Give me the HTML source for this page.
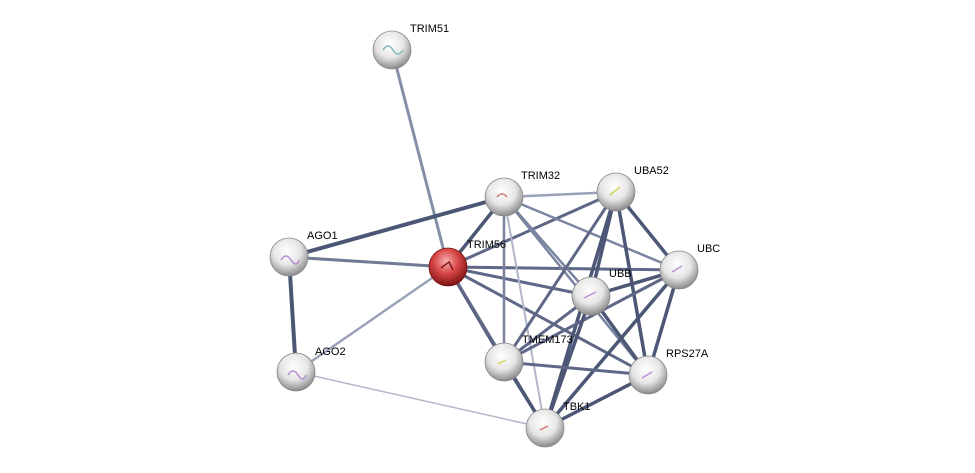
<!DOCTYPE html>
<html><head><meta charset="utf-8"><style>
html,body{margin:0;padding:0;background:#fff;width:975px;height:473px;overflow:hidden}
svg text{font-family:"Liberation Sans",sans-serif;font-size:11px;fill:#000}
</style></head><body>
<svg width="975" height="473" viewBox="0 0 975 473" xmlns="http://www.w3.org/2000/svg">
<defs>
<radialGradient id="g" cx="45%" cy="35%" r="65%">
<stop offset="0" stop-color="#ffffff"/><stop offset="0.55" stop-color="#e6e6e6"/><stop offset="1" stop-color="#8a8a8a"/>
</radialGradient>
<radialGradient id="r" cx="45%" cy="35%" r="65%">
<stop offset="0" stop-color="#f6b0b0"/><stop offset="0.5" stop-color="#d84545"/><stop offset="1" stop-color="#7a1414"/>
</radialGradient>
</defs>
<g stroke-linecap="round">
<line x1="392" y1="50" x2="448" y2="267" stroke="#8590a8" stroke-width="3"/>
<line x1="448" y1="267" x2="289" y2="257" stroke="#6f7a96" stroke-width="3"/>
<line x1="448" y1="267" x2="296" y2="372" stroke="#9aa2b8" stroke-width="2.5"/>
<line x1="448" y1="267" x2="504" y2="197" stroke="#4c5675" stroke-width="3.5"/>
<line x1="448" y1="267" x2="616" y2="192" stroke="#5e6886" stroke-width="3"/>
<line x1="448" y1="267" x2="679" y2="270" stroke="#5e6886" stroke-width="3"/>
<line x1="448" y1="267" x2="591" y2="296" stroke="#5e6886" stroke-width="3"/>
<line x1="448" y1="267" x2="648" y2="375" stroke="#5e6886" stroke-width="3"/>
<line x1="448" y1="267" x2="504" y2="362" stroke="#4c5675" stroke-width="3.5"/>
<line x1="448" y1="267" x2="545" y2="428" stroke="#5e6886" stroke-width="3"/>
<line x1="289" y1="257" x2="296" y2="372" stroke="#4c5675" stroke-width="4"/>
<line x1="289" y1="257" x2="504" y2="197" stroke="#4c5675" stroke-width="4"/>
<line x1="296" y1="372" x2="545" y2="428" stroke="#b8b4c8" stroke-width="1.5"/>
<line x1="504" y1="197" x2="616" y2="192" stroke="#9aa2b8" stroke-width="2.5"/>
<line x1="504" y1="197" x2="679" y2="270" stroke="#7a84a0" stroke-width="2.5"/>
<line x1="504" y1="197" x2="591" y2="296" stroke="#7a84a0" stroke-width="2.5"/>
<line x1="504" y1="197" x2="648" y2="375" stroke="#7a84a0" stroke-width="2.5"/>
<line x1="504" y1="197" x2="504" y2="362" stroke="#7a84a0" stroke-width="2.5"/>
<line x1="504" y1="197" x2="545" y2="428" stroke="#b0b6c8" stroke-width="2"/>
<line x1="616" y1="192" x2="679" y2="270" stroke="#4c5675" stroke-width="3.5"/>
<line x1="616" y1="192" x2="591" y2="296" stroke="#4c5675" stroke-width="3.5"/>
<line x1="616" y1="192" x2="648" y2="375" stroke="#4c5675" stroke-width="3.5"/>
<line x1="616" y1="192" x2="504" y2="362" stroke="#5e6886" stroke-width="3"/>
<line x1="616" y1="192" x2="545" y2="428" stroke="#4c5675" stroke-width="3.5"/>
<line x1="679" y1="270" x2="591" y2="296" stroke="#4c5675" stroke-width="3.5"/>
<line x1="679" y1="270" x2="648" y2="375" stroke="#4c5675" stroke-width="3.5"/>
<line x1="679" y1="270" x2="504" y2="362" stroke="#5e6886" stroke-width="3"/>
<line x1="679" y1="270" x2="545" y2="428" stroke="#4c5675" stroke-width="3.5"/>
<line x1="591" y1="296" x2="648" y2="375" stroke="#4c5675" stroke-width="3.5"/>
<line x1="591" y1="296" x2="504" y2="362" stroke="#5e6886" stroke-width="3"/>
<line x1="591" y1="296" x2="545" y2="428" stroke="#4c5675" stroke-width="3.5"/>
<line x1="648" y1="375" x2="504" y2="362" stroke="#5e6886" stroke-width="3"/>
<line x1="648" y1="375" x2="545" y2="428" stroke="#4c5675" stroke-width="3.5"/>
<line x1="504" y1="362" x2="545" y2="428" stroke="#4c5675" stroke-width="3.5"/>
</g>
<g stroke="#888" stroke-width="0.8">
<circle cx="392" cy="50" r="19" fill="url(#g)"/>
<circle cx="504" cy="197" r="19" fill="url(#g)"/>
<circle cx="616" cy="192" r="19" fill="url(#g)"/>
<circle cx="289" cy="257" r="19" fill="url(#g)"/>
<circle cx="679" cy="270" r="19" fill="url(#g)"/>
<circle cx="591" cy="296" r="19" fill="url(#g)"/>
<circle cx="504" cy="362" r="19" fill="url(#g)"/>
<circle cx="296" cy="372" r="19" fill="url(#g)"/>
<circle cx="648" cy="375" r="19" fill="url(#g)"/>
<circle cx="545" cy="428" r="19" fill="url(#g)"/>
<circle cx="448" cy="267" r="19" fill="url(#r)" stroke="#7a1414"/>
</g>
<g fill="none" stroke-width="1.5" opacity="0.8">
<path d="M383 50 q5 -8 10 0 t10 0" stroke="#6aa"/>
<path d="M497 197 q5 -6 10 0" stroke="#c55"/>
<path d="M610 195 l10 -8" stroke="#cc3"/>
<path d="M281 260 q5 -8 10 0 t8 0" stroke="#a7c"/>
<path d="M672 272 l10 -6" stroke="#a7c"/>
<path d="M584 298 l12 -6" stroke="#a7c"/>
<path d="M498 364 l8 -4" stroke="#cc3"/>
<path d="M288 375 q5 -8 10 0 t8 0" stroke="#a7c"/>
<path d="M642 378 l10 -6" stroke="#a7c"/>
<path d="M540 430 l8 -4" stroke="#c55"/>
<path d="M441 268 l8 -6 l4 8" stroke="#600"/>
</g>
<text x="410" y="32">TRIM51</text>
<text x="521" y="179">TRIM32</text>
<text x="634" y="174">UBA52</text>
<text x="307" y="239">AGO1</text>
<text x="467" y="248">TRIM56</text>
<text x="697" y="252">UBC</text>
<text x="609" y="277">UBB</text>
<text x="522" y="343">TMEM173</text>
<text x="315" y="355">AGO2</text>
<text x="666" y="357">RPS27A</text>
<text x="563" y="410">TBK1</text>
</svg>
</body></html>
